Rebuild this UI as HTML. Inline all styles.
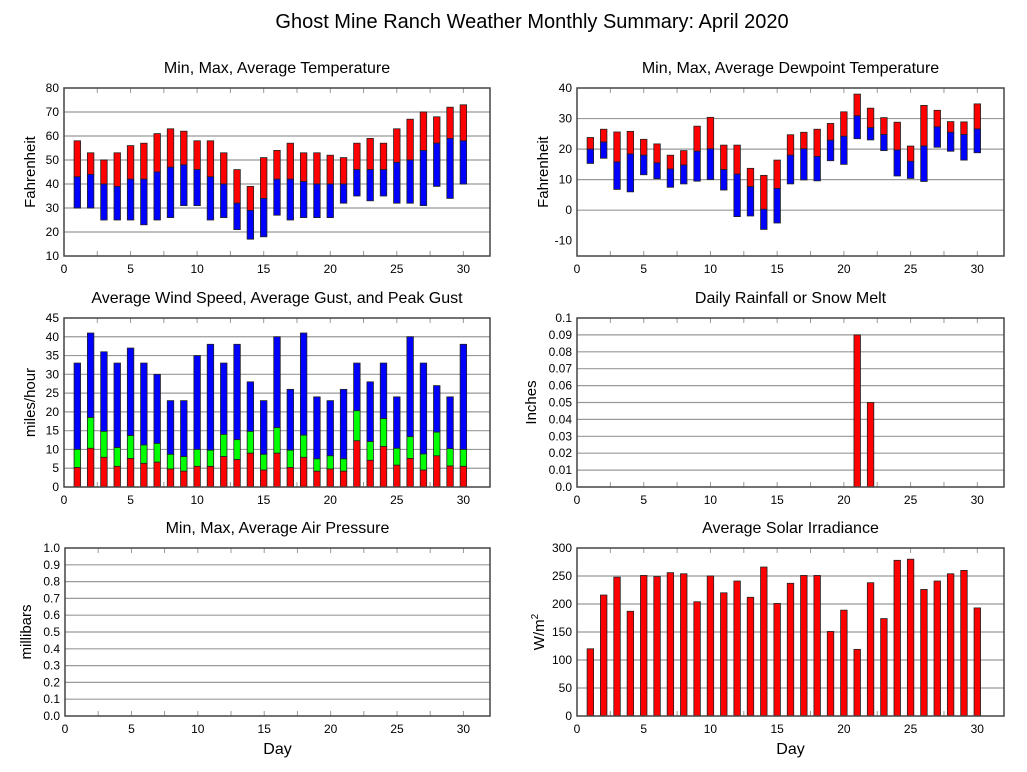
<!DOCTYPE html>
<html><head><meta charset="utf-8"><style>
body{margin:0;background:#fff}
svg{display:block;font-family:"Liberation Sans",sans-serif}
</style></head><body>
<svg id="c" width="1027" height="772">
<text x="532" y="28" font-size="20" text-anchor="middle">Ghost Mine Ranch Weather Monthly Summary: April 2020</text>
</svg>
<script>
const days=[1,2,3,4,5,6,7,8,9,10,11,12,13,14,15,16,17,18,19,20,21,22,23,24,25,26,27,28,29,30];
const tempMin=[30,30,25,25,25,23,25,26,31,31,25,26,21,17,18,27,25,26,26,26,32,35,33,35,32,32,31,39,34,40];
const tempAvg=[43,44,40,39,42,42,45,47,48,46,43,40,32,29,34,42,42,41,40,40,40,46,46,46,49,50,54,57,59,58];
const tempMax=[58,53,50,53,56,57,61,63,62,58,58,53,46,39,51,54,57,53,53,52,51,57,59,57,63,67,70,68,72,73];
const dewMin=[15.3,17,6.8,6,11.6,10.3,7.5,8.6,9.5,10,6.6,-2.1,-1.9,-6.3,-4.2,8.6,9.9,9.6,16.2,15,23.4,23,19.5,11.2,10.4,9.4,20.6,19.3,16.4,18.8];
const dewAvg=[20,22.3,15.8,18.4,18,15.5,13.5,14.8,19.3,20.1,13.3,11.8,7.7,0.3,7.1,18,20.1,17.6,22.9,24.2,30.9,27,24.8,19.7,16,21,27.3,25.5,24.8,26.6];
const dewMax=[23.8,26.5,25.6,25.8,23.2,21.7,18,19.5,27.5,30.4,21.3,21.3,13.7,11.4,16.4,24.7,25.5,26.5,28.4,32.2,38,33.4,30.3,28.8,21,34.3,32.7,29,28.9,34.8];
const windAvg=[5.2,10.3,7.9,5.5,7.6,6.3,6.6,4.8,4.2,5.5,5.5,8.1,7.3,9,4.5,9,5.2,7.9,4.2,4.8,4.2,12.3,7.1,10.8,5.8,7.6,4.5,8.3,5.6,5.5];
const windGust=[10,18.5,14.8,10.5,13.7,11.2,11.6,8.7,8.1,10,9.8,14,12.6,14.8,8.7,15.8,9.8,13.8,7.5,8.3,7.5,20.3,12.1,18.2,10.3,13.4,8.8,14.6,10.2,10];
const windPeak=[33,41,36,33,37,33,30,23,23,35,38,33,38,28,23,40,26,41,24,23,26,33,28,33,24,40,33,27,24,38];
const rainDays=[21,22];
const rainVals=[0.09,0.05];
const solar=[120,216,248,187,251,249,256,254,204,250,220,241,212,266,201,237,251,251,151,189,119,238,174,278,280,226,241,254,260,193];
const xTicks=[0,5,10,15,20,25,30];
const rainTickLabels=['0.0','0.01','0.02','0.03','0.04','0.05','0.06','0.07','0.08','0.09','0.1'];

const svg=document.getElementById('c');
const NS='http://www.w3.org/2000/svg';
function mk(tag,attrs,parent){const e=document.createElementNS(NS,tag);for(const k in attrs)e.setAttribute(k,attrs[k]);(parent||svg).appendChild(e);return e;}

function panel(o){
  const g=mk('g',{});
  
  
  const x=d=>o.x0+(d/32)*(o.x1-o.x0);
  const y=v=>o.y1-(v-o.ymin)/(o.ymax-o.ymin)*(o.y1-o.y0);
  o.yTicks.forEach((v,i)=>{
    const yy=y(v);
    if(i>0&&i<o.yTicks.length-1){const gl=mk('line',{x1:o.x0,x2:o.x1,y1:yy,y2:yy,stroke:'#999','stroke-width':1.2},g);
    
    }
    const t=mk('text',{x:o.x0-5,y:yy+4,'font-size':12,'text-anchor':'end'},g);
    t.textContent=o.labels?o.labels[i]:(o.fmt?v.toFixed(o.fmt):v);
    
    
  });
  for(let d=2.5;d<32;d+=2.5){
    mk('line',{x1:x(d),x2:x(d),y1:o.y0,y2:o.y0+5,stroke:'#999'},g);
    mk('line',{x1:x(d),x2:x(d),y1:o.y1,y2:o.y1-5,stroke:'#999'},g);
  }
  xTicks.forEach(d=>{const t=mk('text',{x:x(d),y:o.y1+17,'font-size':12,'text-anchor':'middle'},g);t.textContent=d;
    
    });
  const tt=mk('text',{x:(o.x0+o.x1)/2,y:o.y0-15,'font-size':16,'text-anchor':'middle'},g);tt.textContent=o.title;
  
  
  const yl=mk('text',{x:0,y:0,'font-size':15,'text-anchor':'middle',transform:`translate(${o.x0-(o.ylOff||29)},${(o.y0+o.y1)/2}) rotate(-90)`},g);
  yl.innerHTML=o.ylabel;
  
  
  if(o.xlabel){const xl=mk('text',{x:(o.x0+o.x1)/2,y:o.y1+38,'font-size':16,'text-anchor':'middle'},g);xl.textContent='Day';
    
    }
  const bw=6.5;
  (o.series||[]).forEach(s=>{
    s.xs.forEach((d,i)=>{
      const lo=s.lo?s.lo[i]:o.ymin, hi=s.hi[i];
      const r=mk('rect',{x:x(d)-bw/2,y:y(hi),width:bw,height:Math.max(0,y(lo)-y(hi)),fill:s.color,stroke:'#222','stroke-width':0.8},g);
      
      
    });
  });
  mk('rect',{x:o.x0,y:o.y0,width:o.x1-o.x0,height:o.y1-o.y0,fill:'none',stroke:'#444','stroke-width':1.5},g);
}
const L=[64,490],R=[577,1004],R1=[88,256],R2=[318,487],R3=[548,716];
panel({name:'temperature-panel',x0:L[0],x1:L[1],y0:R1[0],y1:R1[1],ymin:10,ymax:80,yTicks:[10,20,30,40,50,60,70,80],title:'Min, Max, Average Temperature',ylabel:'Fahrenheit',
  series:[{name:'temp-max',xs:days,lo:tempAvg,hi:tempMax,color:'#f00'},{name:'temp-min',xs:days,lo:tempMin,hi:tempAvg,color:'#00f'}]});
panel({name:'dewpoint-panel',x0:R[0],x1:R[1],y0:R1[0],y1:R1[1],ymin:-15,ymax:40,yTicks:[-10,0,10,20,30,40],title:'Min, Max, Average Dewpoint Temperature',ylabel:'Fahrenheit',
  series:[{name:'dew-max',xs:days,lo:dewAvg,hi:dewMax,color:'#f00'},{name:'dew-min',xs:days,lo:dewMin,hi:dewAvg,color:'#00f'}]});
panel({name:'wind-panel',x0:L[0],x1:L[1],y0:R2[0],y1:R2[1],ymin:0,ymax:45,yTicks:[0,5,10,15,20,25,30,35,40,45],title:'Average Wind Speed, Average Gust, and Peak Gust',ylabel:'miles/hour',
  series:[{name:'peak-gust',xs:days,lo:windGust,hi:windPeak,color:'#00f'},{name:'avg-gust',xs:days,lo:windAvg,hi:windGust,color:'#0f0'},{name:'avg-wind',xs:days,hi:windAvg,color:'#f00'}]});
panel({name:'rain-panel',x0:R[0],x1:R[1],y0:R2[0],y1:R2[1],ymin:0,ymax:0.1,labels:rainTickLabels,ylOff:41,yTicks:[0,0.01,0.02,0.03,0.04,0.05,0.06,0.07,0.08,0.09,0.1],title:'Daily Rainfall or Snow Melt',ylabel:'Inches',
  series:[{name:'rain',xs:rainDays,hi:rainVals,color:'#f00'}]});
panel({name:'pressure-panel',x0:L[0]+1,x1:L[1],y0:R3[0],y1:R3[1],ymin:0,ymax:1,fmt:1,yTicks:[0,0.1,0.2,0.3,0.4,0.5,0.6,0.7,0.8,0.9,1],title:'Min, Max, Average Air Pressure',ylabel:'millibars',ylOff:34,xlabel:true,series:[]});
panel({name:'solar-panel',x0:R[0],x1:R[1],y0:R3[0],y1:R3[1],ymin:0,ymax:300,yTicks:[0,50,100,150,200,250,300],title:'Average Solar Irradiance',ylabel:'W/m<tspan dy="-6" font-size="10">2</tspan>',ylOff:33,xlabel:true,
  series:[{name:'solar',xs:days,hi:solar,color:'#f00'}]});
</script>
</body></html>
